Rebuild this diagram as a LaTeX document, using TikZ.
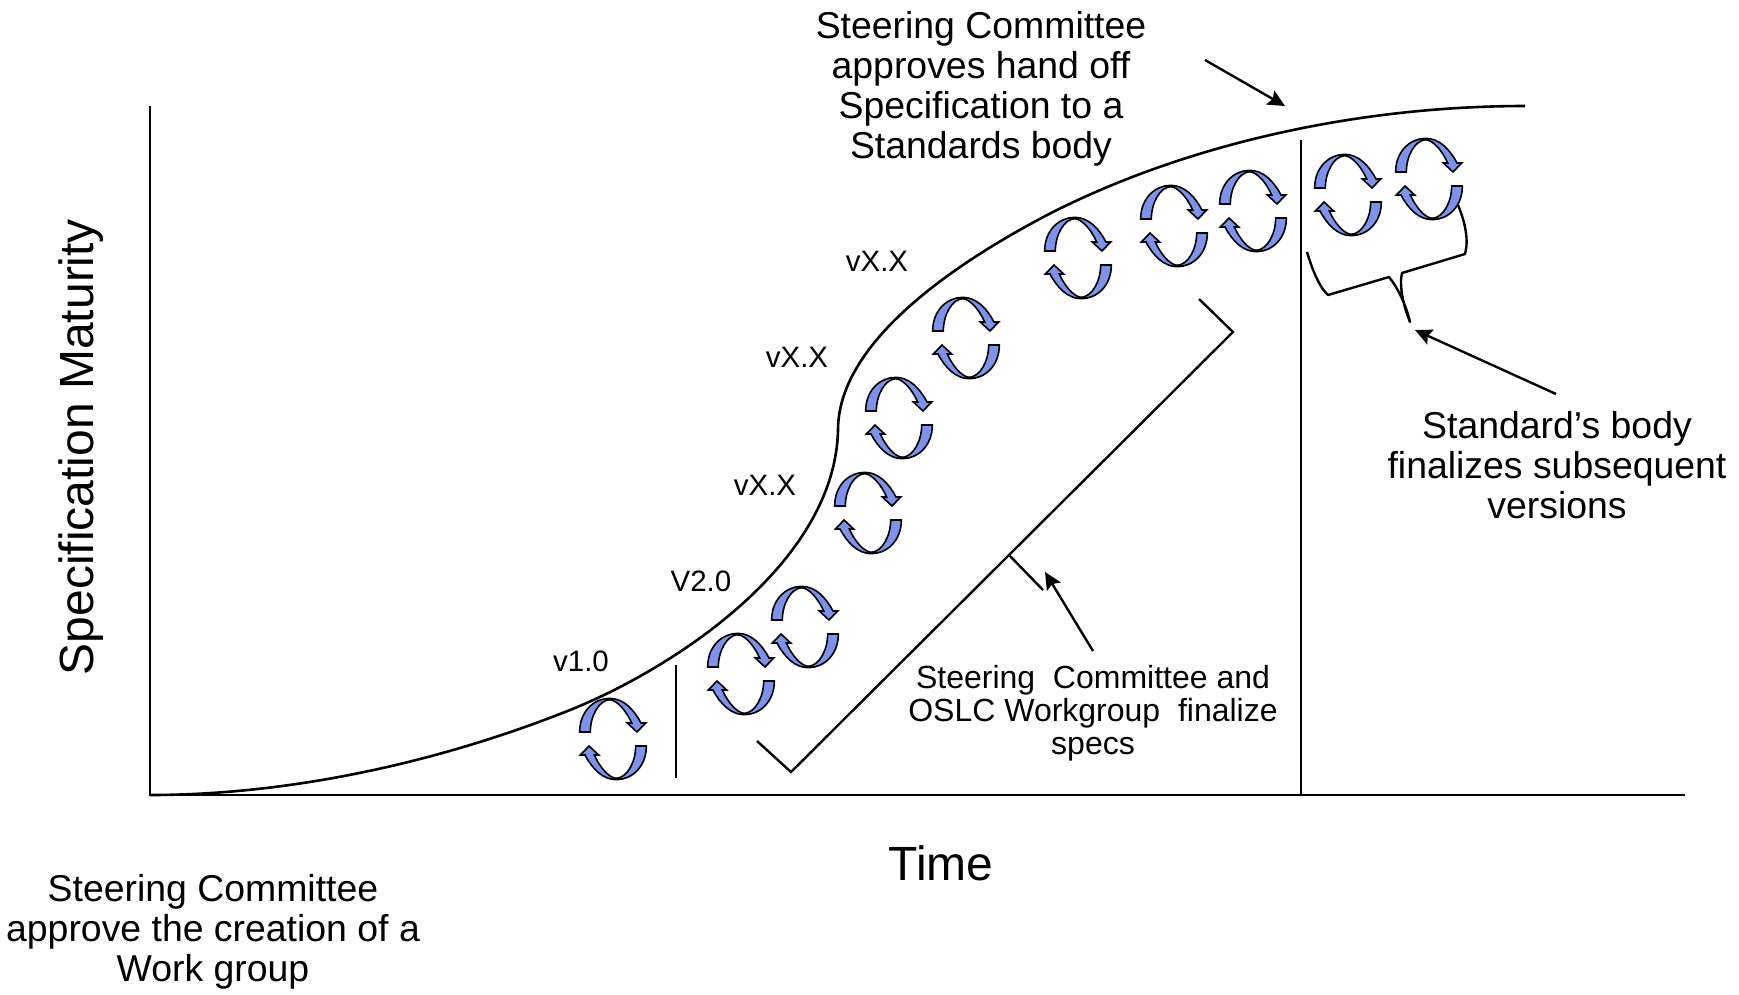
\documentclass[tikz,border=0pt]{standalone}
\usepackage{fontspec}
\setmainfont{Liberation Sans}
\usetikzlibrary{arrows.meta}
\definecolor{cyc}{HTML}{7D92EA}
\tikzset{
  x=1pt,y=-1pt,
  axis/.style={line width=2.6pt,black},
  thin line/.style={line width=2.4pt,black},
  pointer/.style={line width=2.4pt,black,-{Stealth[length=17pt,width=16pt,inset=3pt]}},
  big/.style={align=center,inner sep=0pt,font=\fontsize{37.4}{40}\selectfont},
  mid/.style={align=center,inner sep=0pt,font=\fontsize{32}{33}\selectfont},
  ver/.style={inner sep=0pt,font=\fontsize{29.5}{30}\selectfont},
  cycle icon/.pic={
    \begin{scope}[scale=0.3333,line width=1.6pt,draw=black,fill=cyc,line join=miter]
    \foreach \r in {0,180}{
      \filldraw[rotate=\r] (-100,-21) .. controls (-100,-85) and (-55,-122) .. (-10,-122)
        .. controls (30,-122) and (62,-90) .. (84,-48) -- (98,-48) -- (72,-21) -- (43,-48) -- (56,-48)
        .. controls (42,-80) and (15,-116) .. (-10,-118)
        .. controls (-42,-116) and (-68,-70) .. (-68,-21) -- cycle;
    }
    \end{scope}
  }
}
\begin{document}
\begin{tikzpicture}
\useasboundingbox (0,0) rectangle (1739,994);
% axes
\coordinate (ytop) at (150,106);
\coordinate (org) at (150,795);
\coordinate (xend) at (1685,795);
\draw[axis] (ytop) -- (org) -- (xend);
% curve
\coordinate (cend) at (1525,106);
\coordinate (k1) at (570,710);
\coordinate (k2) at (838,430);
\coordinate (k3) at (1053,212);
\draw[axis] (org) .. controls (300,795) and (450,758) .. (k1)
  .. controls (670,670) and (835,565) .. (k2)
  .. controls (838,340) and (960,260) .. (k3)
  .. controls (1190,143) and (1360,106) .. (cend);
% separators
\coordinate (v1a) at (676,665); \coordinate (v1b) at (676,778);
\draw[thin line] (v1a) -- (v1b);
\coordinate (v2a) at (1301,140); \coordinate (v2b) at (1301,795);
\draw[axis] (v2a) -- (v2b);
% bracket
\coordinate (b1) at (757,741); \coordinate (b2) at (791,772);
\coordinate (b3) at (1233,332); \coordinate (b4) at (1199,299);
\coordinate (t1) at (1009,555); \coordinate (t2) at (1043,590);
\draw[thin line] (b1) -- (b2) -- (b3) -- (b4);
\draw[thin line] (t1) -- (t2);
% callout
\coordinate (c1) at (1307,252); \coordinate (c2) at (1328,295); \coordinate (c3) at (1389,277);
\coordinate (c4) at (1410,322); \coordinate (c5) at (1402,273); \coordinate (c6) at (1465,254);
\coordinate (c7) at (1458,205);
\draw[thin line,line join=round] (c1) .. controls (1313,272) and (1320,288) .. (c2) -- (c3)
  .. controls (1398,288) and (1406,305) .. (c4)
  .. controls (1403,305) and (1399,285) .. (c5) -- (c6)
  .. controls (1469,240) and (1465,222) .. (c7);
% icons
\foreach \n/\x/\y in {1/613/739,2/741/674,3/805/627,4/868/513,5/899/418,6/966/338,7/1078/258,8/1174/226,9/1253/211,10/1348/195,11/1429/179}
  \pic (ic\n) at (\x,\y) {cycle icon};
% texts
\node[big] (top) at (981,89) {Steering Committee\\approves hand off\\Specification to a\\Standards body};
\node[big,rotate=90] (ylab) at (81,447) {\fontsize{48}{48}\selectfont Specification Maturity};
\node[big] (time) at (941,863) {\fontsize{48}{48}\selectfont Time};
\node[big] (wg) at (213,932) {Steering Committee\\approve the creation of a\\Work group};
\node[big] (std) at (1557,465) {Standard’s body\\finalizes subsequent\\versions};
\node[mid] (fin) at (1093,713) {Steering\ \ Committee and\\OSLC Workgroup\ \ finalize\\specs};
\node[ver] (v1) at (581,661) {v1.0};
\node[ver] (v2) at (701,581) {V2.0};
\node[ver] (vx1) at (765,485) {vX.X};
\node[ver] (vx2) at (797,357) {vX.X};
\node[ver] (vx3) at (877,261) {vX.X};
% pointers
\coordinate (p1) at (1205,60); \coordinate (p1e) at (1285,106);
\draw[pointer] (p1) -- (p1e);
\coordinate (p2) at (1556,394); \coordinate (p2e) at (1415,330);
\draw[pointer] (p2) -- (p2e);
\coordinate (p3) at (1093,651); \coordinate (p3e) at (1045,572);
\draw[pointer] (p3) -- (p3e);
\end{tikzpicture}
\end{document}
